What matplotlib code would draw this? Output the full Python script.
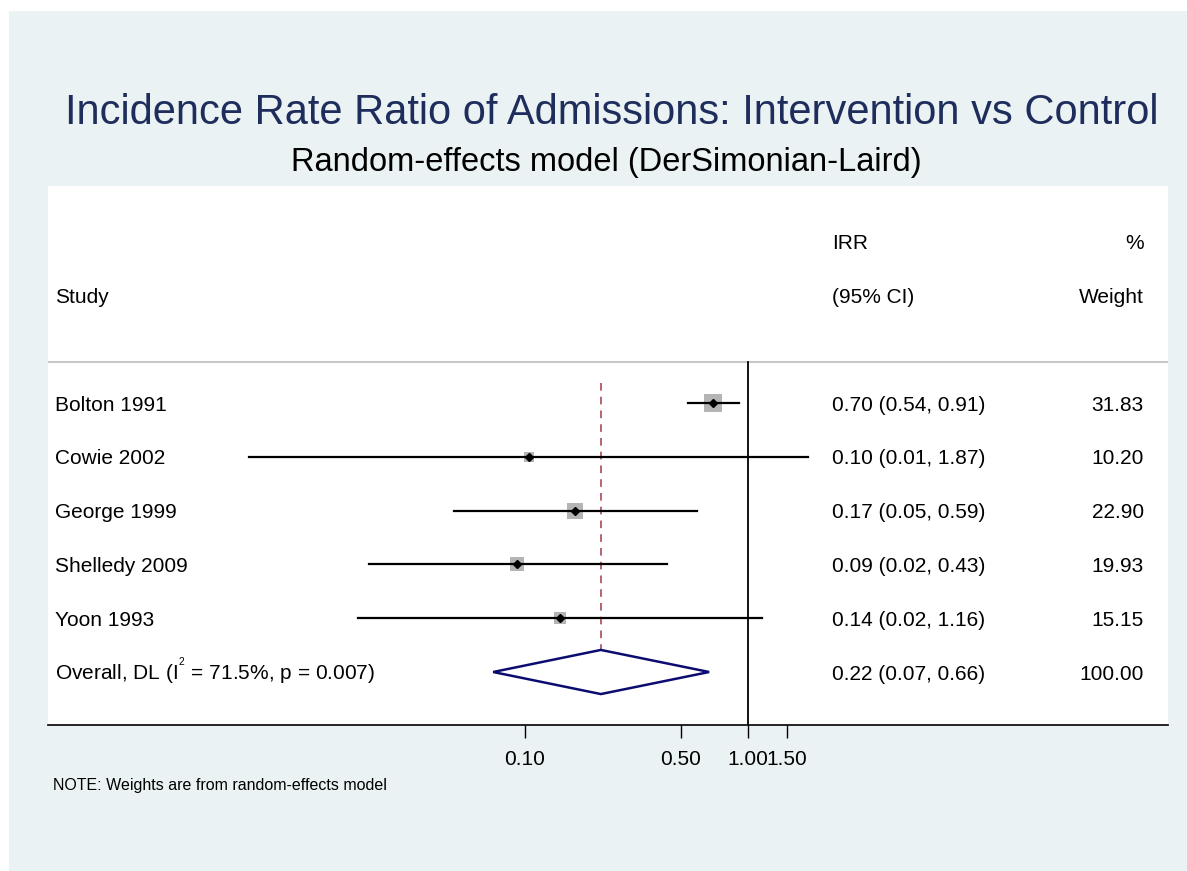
import numpy as np
import matplotlib
matplotlib.use("Agg")
from matplotlib import pyplot as plt
from matplotlib.patches import Rectangle, Polygon

plt.rcParams['font.family'] = ['Liberation Sans', 'DejaVu Sans']
plt.rcParams['mathtext.fontset'] = 'custom'
plt.rcParams['mathtext.rm'] = 'Liberation Sans'

# study data (IRR and 95% CI)
studies = ['Bolton 1991', 'Cowie 2002', 'George 1999', 'Shelledy 2009', 'Yoon 1993']
irr = [0.70, 0.104, 0.167, 0.092, 0.143]
ci_lo = [0.54, 0.0058, 0.048, 0.020, 0.0178]
ci_hi = [0.91, 1.87, 0.59, 0.433, 1.156]
weights = [31.83, 10.20, 22.90, 19.93, 15.15]
irr_text = ['0.70 (0.54, 0.91)', '0.10 (0.01, 1.87)', '0.17 (0.05, 0.59)',
            '0.09 (0.02, 0.43)', '0.14 (0.02, 1.16)']
weight_text = ['31.83', '10.20', '22.90', '19.93', '15.15']

overall_label = r'Overall, DL (I$^{^2}$ = 71.5%, p = 0.007)'
overall_est = 0.219
overall_lo = 0.072
overall_hi = 0.67
overall_text = '0.22 (0.07, 0.66)'
overall_weight = '100.00'

xticks = [0.10, 0.50, 1.00, 1.50]
xticklabels = ['0.10', '0.50', '1.00', '1.50']

bg = '#EAF2F3'
navy = '#1F2D5C'

fig = plt.figure(figsize=(11.87, 8.71), dpi=100, facecolor='white')
fig.patches.append(Rectangle((9 / 1187, 0), 1, 1 - 11 / 871, transform=fig.transFigure,
                             facecolor=bg, edgecolor='none', zorder=-10))

ax = fig.add_axes([48 / 1187, 146 / 871, 1120 / 1187, 539 / 871])
ax.set_facecolor('white')
ax.set_xscale('log')
ax.set_xlim(np.exp(-7.23), np.exp(4.34))
ax.set_ylim(6.985, -3.033)

for s in ['top', 'left', 'right']:
    ax.spines[s].set_visible(False)
ax.spines['bottom'].set_linewidth(1.2)
ax.set_yticks([])
ax.xaxis.set_minor_locator(matplotlib.ticker.NullLocator())
ax.set_xticks(xticks)
ax.set_xticklabels(xticklabels, fontsize=15)
ax.tick_params(axis='x', length=9, width=1, pad=9, direction='out')

rows = np.arange(1, len(studies) + 1)
overall_row = len(studies) + 1

# header separator and null line
ax.axhline(0.23, color='#C8C8C8', lw=1.5, zorder=1)
ax.plot([1, 1], [0.23, 6.985], color='black', lw=1.3, zorder=2)

# overall estimate dashed line
ax.plot([overall_est, overall_est], [0.63, 6.47], color='#A33A45', lw=1.1,
        ls=(0, (5, 4)), zorder=2)

for r, e, lo, hi, w in zip(rows, irr, ci_lo, ci_hi, weights):
    ax.plot(e, r, marker='s', markersize=2.35 * np.sqrt(w), color='#B4B4B4',
            markeredgewidth=0, zorder=3)
    ax.plot([lo, hi], [r, r], color='black', lw=1.6, zorder=4)
    ax.plot(e, r, marker='D', markersize=4.5, color='black', zorder=5)

diamond = Polygon([[overall_lo, overall_row], [overall_est, overall_row - 0.41],
                   [overall_hi, overall_row], [overall_est, overall_row + 0.41]],
                  closed=True, facecolor='white', edgecolor='#0B0B70', lw=1.8, zorder=4)
ax.add_patch(diamond)

tr = ax.get_yaxis_transform()
fs = 15
x_study = 7 / 1120
x_irr = 784 / 1120
x_w = 1096 / 1120
b = 0.14  # baseline offset from row centre


def cell(x, y, s, ha):
    ax.text(x, y + b, s, transform=tr, ha=ha, va='baseline', fontsize=fs)


cell(x_study, -1, 'Study', 'left')
cell(x_irr, -2, 'IRR', 'left')
cell(x_irr, -1, '(95% CI)', 'left')
cell(x_w, -2, '%', 'right')
cell(x_w, -1, 'Weight', 'right')

for r, name, it, wt in zip(rows, studies, irr_text, weight_text):
    cell(x_study, r, name, 'left')
    cell(x_irr, r, it, 'left')
    cell(x_w, r, wt, 'right')

cell(x_study, overall_row, overall_label, 'left')
cell(x_irr, overall_row, overall_text, 'left')
cell(x_w, overall_row, overall_weight, 'right')

fig.text(612 / 1187, 1 - 113 / 871, 'Incidence Rate Ratio of Admissions: Intervention vs Control',
         ha='center', va='center', fontsize=30, color=navy)
fig.text(606 / 1187, 1 - 163 / 871, 'Random-effects model (DerSimonian-Laird)',
         ha='center', va='center', fontsize=23.5, color='black')
fig.text(53 / 1187, 1 - 785 / 871, 'NOTE: Weights are from random-effects model',
         ha='left', va='center', fontsize=11.5, color='black')

fig.savefig('out.png', dpi=100, facecolor='white')
